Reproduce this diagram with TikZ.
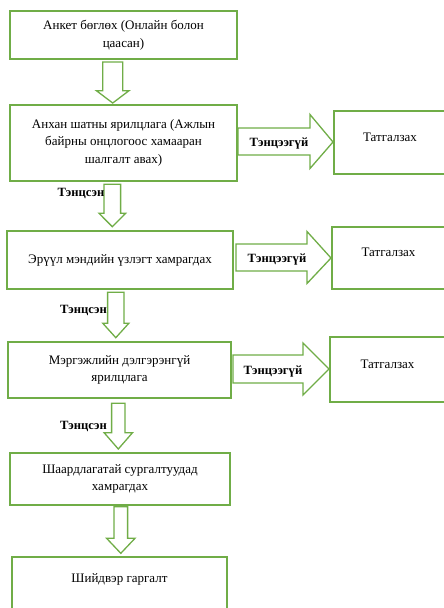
\documentclass[tikz,border=0pt]{standalone}
\usepackage{fontspec}
\setmainfont{Liberation Serif}
\usetikzlibrary{calc}
\definecolor{flowgreen}{RGB}{112,173,71}

% hollow block arrow pointing down: start, tip, shaft half-width, head half-width, head length
\newcommand\downblk[5]{%
  \draw[blk] let \p1=(#1), \p2=(#2) in
    (\x1-#3pt,\y1) -- (\x1+#3pt,\y1) -- (\x1+#3pt,\y2+#5pt) -- (\x1+#4pt,\y2+#5pt)
    -- (\x2,\y2) -- (\x1-#4pt,\y2+#5pt) -- (\x1-#3pt,\y2+#5pt) -- cycle;}
% hollow block arrow pointing right: start, tip, shaft half-width, head half-width, head length
\newcommand\rightblk[5]{%
  \draw[blk] let \p1=(#1), \p2=(#2) in
    (\x1,\y1+#3pt) -- (\x2-#5pt,\y1+#3pt) -- (\x2-#5pt,\y1+#4pt) -- (\x2,\y2)
    -- (\x2-#5pt,\y1-#4pt) -- (\x2-#5pt,\y1-#3pt) -- (\x1,\y1-#3pt) -- cycle;}

\begin{document}
\begin{tikzpicture}[x=1pt,y=-1pt,
  box/.style={draw=flowgreen, line width=1.5pt, align=center, inner sep=0pt,
    font=\fontsize{13}{17.5}\selectfont},
  blk/.style={draw=flowgreen, line width=1.3pt, fill=white, line join=miter},
  lbl/.style={font=\bfseries\fontsize{12.6}{14}\selectfont, inner sep=0pt}]
\useasboundingbox (0,0) rectangle (444,608);
\clip (0,0) rectangle (444,608);

% main column
\node[box, minimum width=227pt, minimum height=48pt] (b1) at (123.5,35)
  {Анкет бөглөх (Онлайн болон\\цаасан)};
\node[box, minimum width=227pt, minimum height=76pt, text depth=4pt] (b2) at (123.5,143)
  {Анхан шатны ярилцлага (Ажлын\\байрны онцлогоос хамааран\\шалгалт авах)};
\node[box, minimum width=226pt, minimum height=58pt] (b3) at (120,260)
  {Эрүүл мэндийн үзлэгт хамрагдах};
\node[box, minimum width=223pt, minimum height=56pt] (b4) at (119.5,370)
  {Мэргэжлийн дэлгэрэнгүй\\ярилцлага};
\node[box, minimum width=220pt, minimum height=52pt] (b5) at (120,479)
  {Шаардлагатай сургалтуудад\\хамрагдах};
\node[box, minimum width=215pt, minimum height=64pt, text depth=22pt] (b6) at (119.5,589)
  {Шийдвэр гаргалт};

% rejection boxes
\node[box, minimum width=112pt, minimum height=63pt, text depth=10pt] (t1) at (390,142.5) {Татгалзах};
\node[box, minimum width=113pt, minimum height=62pt, text depth=11pt] (t2) at (388.5,258) {Татгалзах};
\node[box, minimum width=115pt, minimum height=65pt, text depth=11pt] (t3) at (387.5,369.5) {Татгалзах};

% arrow end points
\coordinate (d1s) at (112.7,62);   \coordinate (d1e) at (112.7,103);
\coordinate (d2s) at (112.3,184.3); \coordinate (d2e) at (112.3,226.7);
\coordinate (d3s) at (115.8,292.3); \coordinate (d3e) at (115.8,337.7);
\coordinate (d4s) at (118.3,403.3); \coordinate (d4e) at (118.3,449);
\coordinate (d5s) at (120.8,506.7); \coordinate (d5e) at (120.8,553.3);
\coordinate (r1s) at (238,141.5); \coordinate (r1e) at (333,142);
\coordinate (r2s) at (236,257.5); \coordinate (r2e) at (331,258);
\coordinate (r3s) at (233,369);   \coordinate (r3e) at (329,369);

\downblk{d1s}{d1e}{10}{16.3}{12.3}
\downblk{d2s}{d2e}{8.3}{13.3}{13.4}
\downblk{d3s}{d3e}{8.2}{13}{14.4}
\downblk{d4s}{d4e}{6.7}{14.2}{16.3}
\downblk{d5s}{d5e}{6.8}{14.2}{15}

\rightblk{r1s}{r1e}{13.5}{27}{23}
\rightblk{r2s}{r2e}{13.5}{26}{24}
\rightblk{r3s}{r3e}{14}{26}{26}

% branch labels
\node[lbl] (n1) at (279,144) {Тэнцээгүй};
\node[lbl] (n2) at (277,259) {Тэнцээгүй};
\node[lbl] (n3) at (273,371) {Тэнцээгүй};
\node[lbl] (y1) at (81,193) {Тэнцсэн};
\node[lbl] (y2) at (83.5,310) {Тэнцсэн};
\node[lbl] (y3) at (83.5,426.5) {Тэнцсэн};
\end{tikzpicture}
\end{document}
